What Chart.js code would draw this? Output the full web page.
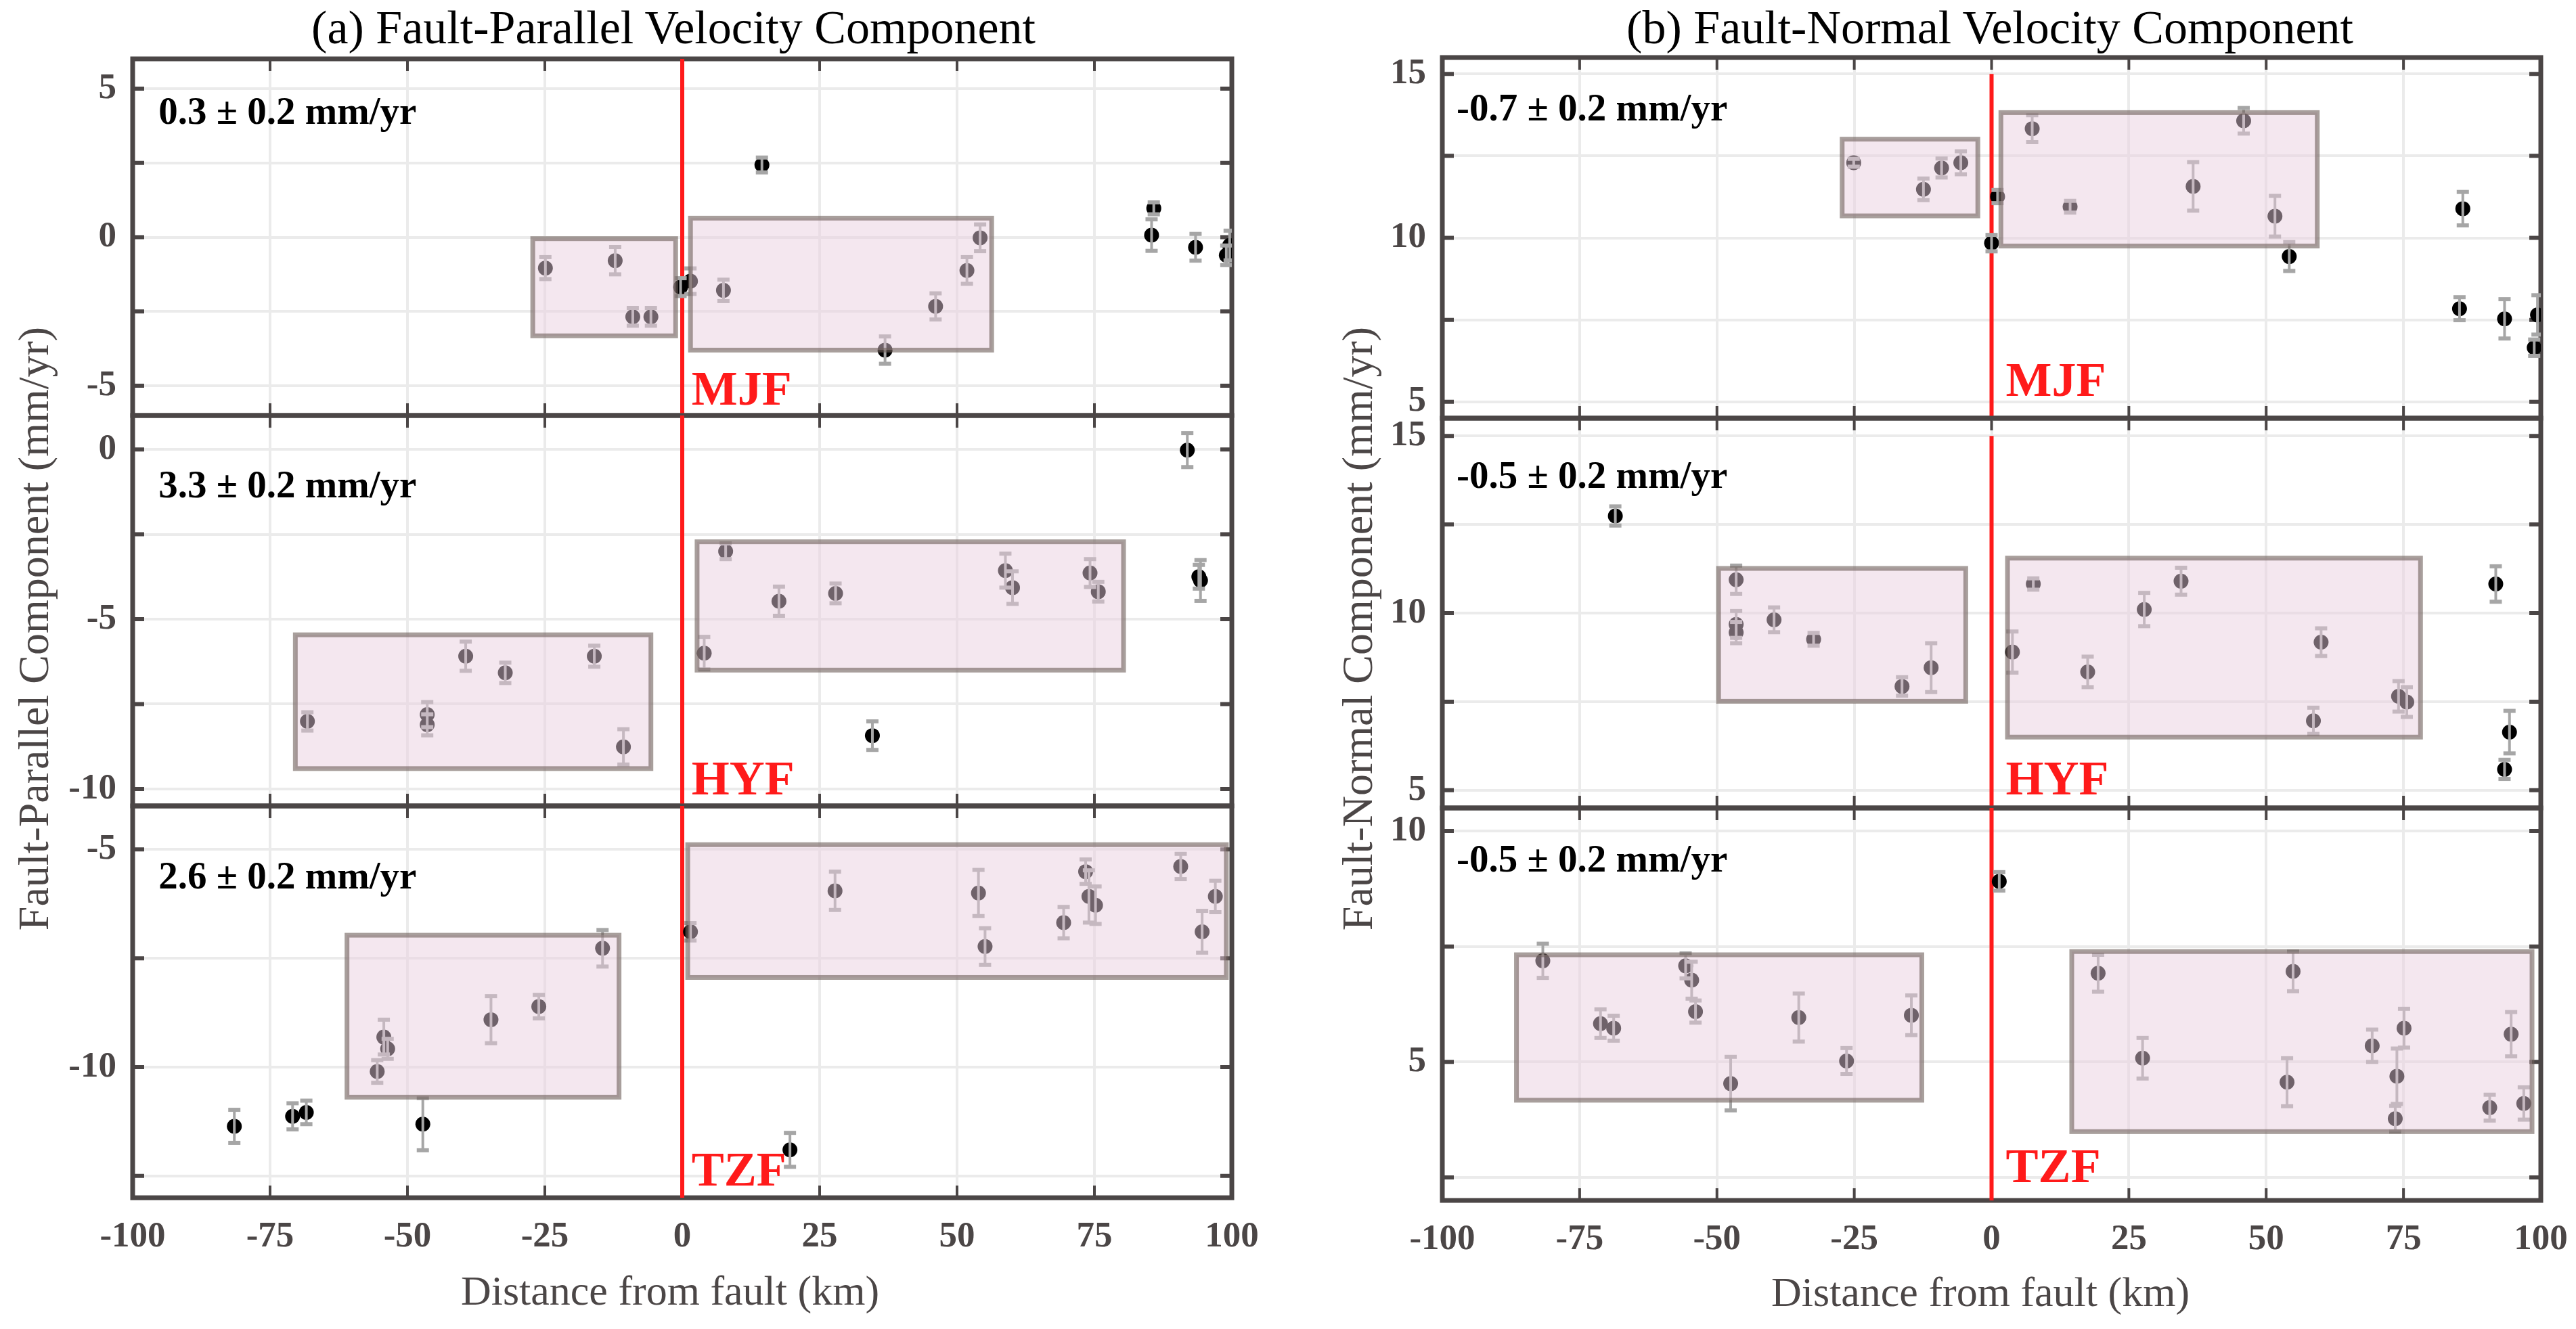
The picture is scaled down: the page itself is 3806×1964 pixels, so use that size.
<!DOCTYPE html>
<html>
<head>
<meta charset="utf-8">
<script src="https://cdn.jsdelivr.net/npm/chart.js@4.4.1/dist/chart.umd.min.js"></script>
<style>
  html,body{margin:0;padding:0;background:#fff;}
  #page{position:relative;width:3806px;height:1964px;overflow:hidden;font-family:'Liberation Serif','Times New Roman',serif;}
  #page canvas{position:absolute;}
  .title{position:absolute;font-size:70px;line-height:1;color:#000;white-space:nowrap;transform:translateX(-50%);}
  .xlab{position:absolute;font-size:62px;line-height:1;color:#4b4646;white-space:nowrap;transform:translateX(-50%);}
  .ylab{position:absolute;font-size:64px;line-height:1;color:#4b4646;white-space:nowrap;transform:translate(-50%,-50%) rotate(-90deg);}
</style>
</head>
<body>
<div id="page">
  <div class="title" style="left:995px;top:6px">(a) Fault-Parallel Velocity Component</div>
  <div class="title" style="left:2940px;top:6px">(b) Fault-Normal Velocity Component</div>
  <div class="xlab" style="left:990px;top:1876px">Distance from fault (km)</div>
  <div class="xlab" style="left:2926px;top:1878px">Distance from fault (km)</div>
  <div class="ylab" style="left:50px;top:929px">Fault-Parallel Component (mm/yr)</div>
  <div class="ylab" style="left:2006px;top:929px">Fault-Normal Component (mm/yr)</div>
</div>
<script>
/* velocity profiles across the faults - 3 segments, parallel / normal components */

const X_TICKS = [-100, -75, -50, -25, 0, 25, 50, 75, 100];

// (a) fault-parallel, top panel (MJF)
const FP1_DIST = [14.5, 85.8, 85.4, 93.4, 99.0, 99.6, -0.3, 1.5, 7.5, -24.9, -12.2, -9.0, -5.7, 36.9, 46.1, 51.8, 54.2];
const FP1_VEL  = [2.43, 0.97, 0.07, -0.34, -0.61, -0.28, -1.68, -1.48, -1.79, -1.04, -0.79, -2.68, -2.68, -3.80, -2.33, -1.12, -0.02];
const FP1_ERR  = [0.25, 0.2, 0.53, 0.45, 0.33, 0.5, 0.3, 0.43, 0.36, 0.37, 0.46, 0.3, 0.3, 0.46, 0.44, 0.45, 0.45];
const FP1_BOXES = [[-27.2, -1.2, -3.32, -0.05], [1.5, 56.3, -3.8, 0.64]];

// (a) middle panel (HYF)
const FP2_DIST = [91.9, 7.9, 17.6, 27.9, 58.8, 60.1, 74.2, 75.7, 94.0, 94.3, 4.0, 34.6, -68.2, -46.4, -46.4, -39.4, -32.2, -16.0, -10.7];
const FP2_VEL  = [-0.02, -3.0, -4.47, -4.24, -3.57, -4.07, -3.64, -4.19, -3.75, -3.86, -6.0, -8.43, -8.01, -7.81, -8.11, -6.09, -6.58, -6.09, -8.76];
const FP2_ERR  = [0.5, 0.23, 0.43, 0.29, 0.5, 0.48, 0.41, 0.29, 0.35, 0.6, 0.48, 0.42, 0.27, 0.37, 0.31, 0.43, 0.3, 0.31, 0.52];
const FP2_BOXES = [[-70.4, -5.7, -9.4, -5.46], [2.7, 80.3, -6.5, -2.72]];

// (a) bottom panel (TZF)
const FP3_DIST = [-81.5, -70.9, -68.4, -47.2, -55.5, -54.3, -53.6, -34.8, -26.1, -14.5, 1.5, 19.6, 27.8, 53.9, 55.1, 69.4, 73.4, 74.0, 75.2, 90.7, 94.6, 97.0];
const FP3_VEL  = [-11.36, -11.13, -11.04, -11.31, -10.10, -9.31, -9.58, -8.91, -8.61, -7.27, -6.89, -11.90, -5.95, -6.00, -7.23, -6.68, -5.51, -6.08, -6.28, -5.39, -6.89, -6.08];
const FP3_ERR  = [0.38, 0.3, 0.27, 0.6, 0.26, 0.4, 0.23, 0.54, 0.27, 0.42, 0.2, 0.39, 0.44, 0.53, 0.42, 0.36, 0.28, 0.6, 0.43, 0.29, 0.48, 0.36];
const FP3_BOXES = [[-61.0, -11.5, -10.69, -6.97], [1.0, 99.0, -7.94, -4.89]];

// (b) fault-normal, top panel (MJF)
const FN1_DIST = [-25.1, -12.4, -9.1, -5.6, 1.1, 0.0, 7.4, 14.3, 36.7, 45.9, 51.6, 54.2, 85.8, 85.2, 93.4, 99.4, 98.8];
const FN1_VEL  = [12.29, 11.48, 12.13, 12.29, 11.26, 9.84, 13.33, 10.95, 11.57, 13.57, 10.66, 9.43, 10.89, 7.84, 7.53, 7.65, 6.65];
const FN1_ERR  = [0.12, 0.33, 0.29, 0.35, 0.2, 0.25, 0.41, 0.18, 0.74, 0.39, 0.62, 0.44, 0.51, 0.35, 0.6, 0.6, 0.25];
const FN1_BOXES = [[-27.2, -2.5, 10.67, 13.01], [1.7, 59.3, 9.75, 13.82]];

// (b) middle panel (HYF)
const FN2_DIST = [-68.5, -46.5, -46.5, -46.5, -39.6, -32.4, -16.3, -11.0, 3.8, 7.6, 17.5, 27.8, 34.5, 58.6, 60.0, 74.1, 75.6, 91.8, 94.3, 93.4];
const FN2_VEL  = [12.74, 10.94, 9.68, 9.45, 9.81, 9.26, 7.93, 8.46, 8.90, 10.82, 8.34, 10.10, 10.90, 6.96, 9.18, 7.65, 7.49, 10.82, 6.64, 5.59];
const FN2_ERR  = [0.27, 0.4, 0.38, 0.3, 0.35, 0.18, 0.26, 0.69, 0.58, 0.16, 0.43, 0.47, 0.38, 0.37, 0.39, 0.43, 0.42, 0.5, 0.6, 0.27];
const FN2_BOXES = [[-49.7, -4.7, 7.51, 11.26], [2.9, 78.1, 6.5, 11.55]];

// (b) bottom panel (TZF)
const FN3_DIST = [1.4, -81.7, -71.2, -68.8, -55.7, -54.6, -53.9, -47.5, -35.1, -26.4, -14.6, 19.4, 27.5, 54.9, 53.8, 69.3, 73.8, 73.5, 75.1, 90.7, 94.6, 96.9];
const FN3_VEL  = [8.91, 7.19, 5.83, 5.73, 7.08, 6.77, 6.09, 4.53, 5.96, 5.02, 6.01, 6.92, 5.08, 6.96, 4.56, 5.35, 4.69, 3.77, 5.73, 4.01, 5.60, 4.10];
const FN3_ERR  = [0.2, 0.37, 0.31, 0.27, 0.27, 0.4, 0.24, 0.58, 0.52, 0.28, 0.43, 0.4, 0.44, 0.43, 0.52, 0.35, 0.6, 0.28, 0.42, 0.28, 0.48, 0.35];
const FN3_BOXES = [[-86.5, -12.7, 4.17, 7.32], [14.6, 98.4, 3.49, 7.39]];

// axis ranges and ticks per panel
const FP_YMIN = [-6, -10.5, -13], FP_YMAX = [6, 1, -4];
const FN_YMIN = [4.5, 4.5, 2],    FN_YMAX = [15.5, 15.5, 10.5];
const FP_YTICKS = [[-5, -2.5, 0, 2.5, 5], [-10, -7.5, -5, -2.5, 0], [-12.5, -10, -7.5, -5]];
const FN_YTICKS = [[5, 7.5, 10, 12.5, 15], [5, 7.5, 10, 12.5, 15], [2.5, 5, 7.5, 10]];

// fault trace at 0 km (y extent per panel)
const FP_FAULT_Y = [[-6, 6], [-10.5, 1], [-13, -4]];
const FN_FAULT_Y = [[4.5, 15], [4.5, 15], [2, 10.5]];
const FAULTS = ['MJF', 'HYF', 'TZF'];

// rate annotations
const FP_RATES = ['0.3 ± 0.2 mm/yr', '3.3 ± 0.2 mm/yr', '2.6 ± 0.2 mm/yr'];
const FN_RATES = ['-0.7 ± 0.2 mm/yr', '-0.5 ± 0.2 mm/yr', '-0.5 ± 0.2 mm/yr'];

const AXIS_COLOR = '#4b4646';
const GRID_COLOR = '#ebebeb';
const ERR_COLOR = '#a6a6a6';
const FAULT_COLOR = '#ff1a1a';
const BOX_FILL = 'rgba(232,205,222,0.48)';
const BOX_EDGE = 'rgba(110,95,90,0.6)';

const Y_AXIS_W = 190, PAD_T = 70, PAD_R = 70, PAD_B = 70, X_AXIS_H = 120;

Chart.defaults.font.family = "'Liberation Serif','Times New Roman',serif";

document.addEventListener('DOMContentLoaded', () => {
  const page = document.getElementById('page');

  function addPanel(rect, p){
    const w = rect.r - rect.l + Y_AXIS_W + PAD_R;
    const h = rect.b - rect.t + PAD_T + PAD_B + (p.bottom ? X_AXIS_H : 0);
    const cv = document.createElement('canvas');
    cv.width = w; cv.height = h;
    cv.style.left = (rect.l - Y_AXIS_W) + 'px';
    cv.style.top = (rect.t - PAD_T) + 'px';
    cv.style.width = w + 'px'; cv.style.height = h + 'px';
    page.appendChild(cv);

    // error bars as short segments separated by gaps
    const errData = [];
    p.dist.forEach((d, i) => {
      errData.push({x: d, y: p.vel[i] - p.err[i]}, {x: d, y: p.vel[i] + p.err[i]}, {x: d, y: null});
    });

    const panelPlugin = {
      id: 'panel',
      beforeDatasetsDraw(chart){
        const {ctx, chartArea: a, scales: {x, y}} = chart;
        ctx.save();
        ctx.strokeStyle = AXIS_COLOR;
        ctx.lineWidth = 4;
        X_TICKS.forEach(v => {
          const px = x.getPixelForValue(v);
          ctx.beginPath();
          ctx.moveTo(px, a.top); ctx.lineTo(px, a.top + 18);
          ctx.moveTo(px, a.bottom); ctx.lineTo(px, a.bottom - 18);
          ctx.stroke();
        });
        ctx.lineWidth = 6;
        p.yTicks.forEach(v => {
          const py = y.getPixelForValue(v);
          ctx.beginPath();
          ctx.moveTo(a.left, py); ctx.lineTo(a.left + 17, py);
          ctx.moveTo(a.right, py); ctx.lineTo(a.right - 17, py);
          ctx.stroke();
        });
        ctx.lineWidth = 7;
        ctx.strokeRect(a.left, a.top, a.right - a.left, a.bottom - a.top);
        ctx.restore();
      },
      afterDatasetsDraw(chart){
        const {ctx, scales: {x, y}} = chart;
        ctx.save();
        p.boxes.forEach(b => {
          const x0 = x.getPixelForValue(b[0]), x1 = x.getPixelForValue(b[1]);
          const y0 = y.getPixelForValue(b[3]), y1 = y.getPixelForValue(b[2]);
          ctx.fillStyle = BOX_FILL;
          ctx.fillRect(x0, y0, x1 - x0, y1 - y0);
          ctx.strokeStyle = BOX_EDGE;
          ctx.lineWidth = 7;
          ctx.strokeRect(x0, y0, x1 - x0, y1 - y0);
        });
        ctx.restore();
      },
      afterDraw(chart){
        const {ctx, scales: {x, y}} = chart;
        ctx.save();
        ctx.textBaseline = 'alphabetic';
        ctx.textAlign = 'left';
        ctx.fillStyle = '#000';
        ctx.font = "bold 57px 'Liberation Serif','Times New Roman',serif";
        ctx.fillText(p.rate, x.getPixelForValue(p.rateAt[0]), y.getPixelForValue(p.rateAt[1]));
        ctx.fillStyle = FAULT_COLOR;
        ctx.font = "bold 72px 'Liberation Serif','Times New Roman',serif";
        ctx.fillText(p.fault, x.getPixelForValue(p.faultAt[0]), y.getPixelForValue(p.faultAt[1]));
        ctx.restore();
      }
    };

    return new Chart(cv, {
      type: 'line',
      data: {
        datasets: [
          { data: errData, borderColor: ERR_COLOR, borderWidth: 4, spanGaps: false,
            pointStyle: 'line', pointRadius: 9, pointBorderWidth: 6, pointBorderColor: ERR_COLOR, order: 0 },
          { data: p.dist.map((d, i) => ({x: d, y: p.vel[i]})), showLine: false,
            pointRadius: 11, pointBackgroundColor: '#000', pointBorderWidth: 0, order: 1 },
          { data: [{x: 0, y: p.faultY[0]}, {x: 0, y: p.faultY[1]}], borderColor: FAULT_COLOR,
            borderWidth: 6, pointRadius: 0, order: 2 }
        ]
      },
      options: {
        responsive: false, animation: false, devicePixelRatio: 1, events: [],
        layout: { padding: { top: PAD_T, right: PAD_R, bottom: PAD_B, left: 0 } },
        plugins: { legend: { display: false }, tooltip: { enabled: false } },
        scales: {
          x: {
            type: 'linear', min: -100, max: 100,
            afterBuildTicks: s => { s.ticks = X_TICKS.map(v => ({value: v})); },
            afterFit: s => { s.height = p.bottom ? X_AXIS_H : 0; },
            grid: { color: GRID_COLOR, lineWidth: 4, drawTicks: false },
            border: { display: false },
            ticks: { display: p.bottom, color: AXIS_COLOR, padding: 27, maxRotation: 0, autoSkip: false,
                     font: { size: 53, weight: 'bold' }, callback: v => String(v) }
          },
          y: {
            type: 'linear', min: p.ymin, max: p.ymax,
            afterBuildTicks: s => { s.ticks = p.yTicks.map(v => ({value: v})); },
            afterFit: s => { s.width = Y_AXIS_W; },
            grid: { color: GRID_COLOR, lineWidth: 4, drawTicks: false },
            border: { display: false },
            ticks: { color: AXIS_COLOR, padding: 24, autoSkip: false,
                     font: { size: 53, weight: 'bold' }, callback: v => (v % 5 === 0 ? String(v) : '') }
          }
        }
      },
      plugins: [panelPlugin]
    });
  }

  const LEFT_ROWS = [[87, 614], [614, 1191], [1191, 1770]];
  const RIGHT_ROWS = [[85, 618], [618, 1194], [1194, 1774]];
  const FP = [[FP1_DIST, FP1_VEL, FP1_ERR, FP1_BOXES], [FP2_DIST, FP2_VEL, FP2_ERR, FP2_BOXES], [FP3_DIST, FP3_VEL, FP3_ERR, FP3_BOXES]];
  const FN = [[FN1_DIST, FN1_VEL, FN1_ERR, FN1_BOXES], [FN2_DIST, FN2_VEL, FN2_ERR, FN2_BOXES], [FN3_DIST, FN3_VEL, FN3_ERR, FN3_BOXES]];
  const FP_RATE_AT = [[-95.3, 3.82], [-95.3, -1.42], [-95.3, -5.9]];
  const FN_RATE_AT = [[-97.4, 13.59], [-97.4, 13.54], [-97.4, 9.12]];
  const FP_FAULT_AT = [[1.7, -5.63], [1.7, -10.16], [1.7, -12.72]];
  const FN_FAULT_AT = [[2.6, 5.18], [2.6, 4.89], [2.6, 2.4]];

  for(let i = 0; i < 3; i++){
    addPanel({l: 196, r: 1820, t: LEFT_ROWS[i][0], b: LEFT_ROWS[i][1]}, {
      dist: FP[i][0], vel: FP[i][1], err: FP[i][2], boxes: FP[i][3],
      ymin: FP_YMIN[i], ymax: FP_YMAX[i], yTicks: FP_YTICKS[i], faultY: FP_FAULT_Y[i],
      rate: FP_RATES[i], rateAt: FP_RATE_AT[i], fault: FAULTS[i], faultAt: FP_FAULT_AT[i], bottom: i === 2
    });
    addPanel({l: 2131, r: 3754, t: RIGHT_ROWS[i][0], b: RIGHT_ROWS[i][1]}, {
      dist: FN[i][0], vel: FN[i][1], err: FN[i][2], boxes: FN[i][3],
      ymin: FN_YMIN[i], ymax: FN_YMAX[i], yTicks: FN_YTICKS[i], faultY: FN_FAULT_Y[i],
      rate: FN_RATES[i], rateAt: FN_RATE_AT[i], fault: FAULTS[i], faultAt: FN_FAULT_AT[i], bottom: i === 2
    });
  }
});
</script>
</body>
</html>
